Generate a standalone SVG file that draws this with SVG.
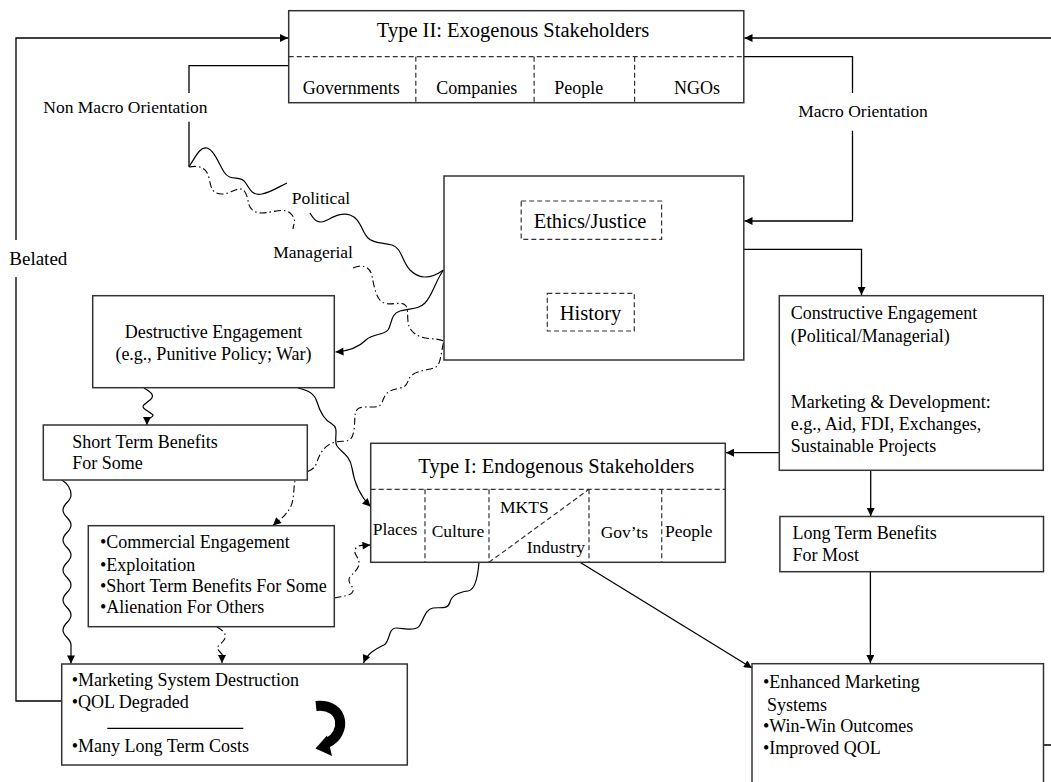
<svg xmlns="http://www.w3.org/2000/svg" width="1051" height="782" viewBox="0 0 1051 782">
<defs>
<style>
.box{fill:#fff;stroke:#333;stroke-width:1.5}
.dsh{fill:none;stroke:#333;stroke-width:1.2;stroke-dasharray:5 3}
.ln{fill:none;stroke:#000;stroke-width:1.3}
.wv{fill:none;stroke:#000;stroke-width:1.2}
.dd{fill:none;stroke:#000;stroke-width:1.1;stroke-dasharray:7 3 1.5 3}
text{font-family:"Liberation Serif","Times New Roman",serif;fill:#000}
.s18{font-size:18px}
.s17{font-size:17.5px}
.s20{font-size:20.5px}
.s19{font-size:19px}
.mid{text-anchor:middle}
</style>
<marker id="ah" viewBox="0 0 10 10" refX="10" refY="5" markerWidth="10" markerHeight="8" markerUnits="userSpaceOnUse" orient="auto"><path d="M0,0 L10,5 L0,10 z" fill="#000"/></marker>
</defs>
<rect width="1051" height="782" fill="#fff"/>

<g id="connectors">
<path class="ln" d="M61.7,701 H16 V277 M16,240 V38 H288" marker-end="url(#ah)"/>
<path class="ln" d="M1043.5,745 H1062 V38 H744.5" marker-end="url(#ah)"/>
<path class="ln" d="M288.7,65.7 H189 V93 M189,121.7 V166.7"/>
<path class="ln" d="M743.8,56.7 H852.5 V93 M852.5,130.7 V221 H744.5" marker-end="url(#ah)"/>
<path class="ln" d="M743.8,249.3 H861.5 V295" marker-end="url(#ah)"/>
<path class="ln" d="M589.7,239.5 V284" marker-end="url(#ah)"/>
<path class="ln" d="M779.3,452.7 H726" marker-end="url(#ah)"/>
<path class="ln" d="M870.7,470.3 V516" marker-end="url(#ah)"/>
<path class="ln" d="M870.4,571.7 V663" marker-end="url(#ah)"/>
<path class="ln" d="M580,562.3 L752,668" marker-end="url(#ah)"/>

<path class="wv" d="M189,166.7 C195,158 200,146 207,148 S218,162 224,172 S240,175 245,182 S252,196 262,194 S280,186 287,183"/>
<path class="wv" d="M310,213 C314,220 318,224 325,221 S340,212 350,215 S362,232 368,238 S382,242 392,245 S402,262 410,270 S428,281 443.5,270"/>
<path class="wv" d="M443.5,270 C436,280 432,296 425,303 S410,308 400,311 S392,325 388,330 S372,334 366,340 S352,351 335.5,352" marker-end="url(#ah)"/>

<path class="dd" d="M189,167 C200,165 207,168 209,178 S212,194 222,194 S240,184 245,192 S246,208 256,212 S282,206 290,213 S293,224 293,229"/>
<path class="dd" d="M353,268 C362,264 370,266 372,276 S376,300 384,303 S402,300 406,306 S404,325 414,333 S435,337 443.5,341"/>
<path class="dd" d="M443.5,343 C441,352 441,364 436,367 S418,370 412,375 S410,386 400,388 S386,392 383,400 S378,407 365,407 S356,416 354,430 S346,440 336,442 S320,452 317,462 S304,472 298,475 S296,498 290,508 S280,519 273,525.5" marker-end="url(#ah)"/>

<path class="dd" d="M334.3,598 C342,596 352,596 353,591 S346,582 350,577 S360,568 359,562 S352,552 356,548 S364,545.5 370.5,545" marker-end="url(#ah)"/>
<path class="dd" d="M217,627 C222,630 228,634 224,640 S214,646 220,652 S222,656 222,663" marker-end="url(#ah)"/>

<path class="wv" d="M144,388 C150,392 156,395 150,400 S140,406 146,410 S156,415 150,418 S147,420 147,425" marker-end="url(#ah)"/>
<path class="wv" d="M298,388 C306,390 314,392 317,402 S324,420 332,424 S333,440 337,446 S350,455 352,468 S360,496 370.5,506.5" marker-end="url(#ah)"/>
<path class="wv" d="M62,480 C68,484 71,488 71,495 S63,503 63,510 S71,518 71,525 S63,533 63,540 S71,548 71,555 S63,563 63,570 S71,578 71,585 S63,593 63,600 S71,608 71,615 S63,623 63,630 S71,638 71,645 S71,655 71,663.5" marker-end="url(#ah)"/>
<path class="wv" d="M479,562.3 C478,575 476,590 468,591 S452,594 450,602 S440,607 433,608 S424,618 420,625 S404,628 396,628 S390,642 384,645 S368,652 363.5,663" marker-end="url(#ah)"/>
</g>

<g id="type2">
<rect class="box" x="288.7" y="10.7" width="455.1" height="92"/>
<line class="dsh" x1="288.7" y1="56.7" x2="743.8" y2="56.7"/>
<line class="dsh" x1="415.8" y1="56.7" x2="415.8" y2="102.7"/>
<line class="dsh" x1="534.1" y1="56.7" x2="534.1" y2="102.7"/>
<line class="dsh" x1="634.6" y1="56.7" x2="634.6" y2="102.7"/>
<text class="s20 mid" x="513" y="37">Type II: Exogenous Stakeholders</text>
<text class="s18" x="302.7" y="94">Governments</text>
<text class="s18 mid" x="476.8" y="94">Companies</text>
<text class="s18 mid" x="578.7" y="94">People</text>
<text class="s18 mid" x="697" y="94">NGOs</text>
</g>

<g id="labels">
<text class="s17" x="43.3" y="113">Non Macro Orientation</text>
<text class="s17 mid" x="863" y="117">Macro Orientation</text>
<text class="s19" x="9.3" y="265">Belated</text>
<text class="s17" x="291.7" y="204">Political</text>
<text class="s17" x="273.3" y="258">Managerial</text>
</g>

<g id="ethics">
<rect class="box" x="444" y="176" width="299.8" height="184"/>
<rect class="dsh" x="521.2" y="201" width="140.4" height="38.3"/>
<text class="s20 mid" x="590" y="228">Ethics/Justice</text>
<rect class="dsh" x="547.3" y="293.3" width="87" height="37.7"/>
<text class="s20 mid" x="590.5" y="320">History</text>
</g>

<g id="destructive">
<rect class="box" x="92.7" y="295.7" width="241.6" height="92"/>
<text class="s18 mid" x="213.5" y="338">Destructive Engagement</text>
<text class="s18 mid" x="213.5" y="360">(e.g., Punitive Policy; War)</text>
</g>

<g id="shortterm">
<rect class="box" x="43.3" y="425" width="264" height="55"/>
<text class="s18" x="72.3" y="447.7">Short Term Benefits</text>
<text class="s18" x="72.3" y="469">For Some</text>
</g>

<g id="constructive">
<rect class="box" x="779.3" y="295.7" width="264" height="174.6"/>
<text class="s18" x="790.7" y="319">Constructive Engagement</text>
<text class="s18" x="790.7" y="341.7">(Political/Managerial)</text>
<text class="s18" x="790.7" y="408">Marketing &amp; Development:</text>
<text class="s18" x="790.7" y="430">e.g., Aid, FDI, Exchanges,</text>
<text class="s18" x="790.7" y="451.7">Sustainable Projects</text>
</g>

<g id="type1">
<rect class="box" x="370.7" y="443.3" width="354.6" height="119"/>
<line class="dsh" x1="370.7" y1="489.3" x2="725.3" y2="489.3"/>
<line class="dsh" x1="425" y1="489.3" x2="425" y2="562.3"/>
<line class="dsh" x1="489" y1="489.3" x2="489" y2="562.3"/>
<line class="dsh" x1="589" y1="489.3" x2="589" y2="562.3"/>
<line class="dsh" x1="661.7" y1="489.3" x2="661.7" y2="562.3"/>
<line class="dsh" x1="489" y1="562.3" x2="589" y2="489.3"/>
<text class="s20" x="418.3" y="473.3">Type I: Endogenous Stakeholders</text>
<text class="s17" x="372.7" y="535">Places</text>
<text class="s17" x="431.7" y="537">Culture</text>
<text class="s17" x="500" y="513">MKTS</text>
<text class="s17" x="526.7" y="552.5">Industry</text>
<text class="s17" x="600.7" y="537.5">Gov’ts</text>
<text class="s17" x="665" y="537">People</text>
</g>

<g id="longterm">
<rect class="box" x="779.9" y="516.5" width="263.6" height="55.2"/>
<text class="s18" x="792.4" y="539.3">Long Term Benefits</text>
<text class="s18" x="792.4" y="560.7">For Most</text>
</g>

<g id="commercial">
<rect class="box" x="88.3" y="525.7" width="246" height="101"/>
<text class="s18" x="100" y="548.3">•Commercial Engagement</text>
<text class="s18" x="100" y="570.7">•Exploitation</text>
<text class="s18" x="100" y="591.7">•Short Term Benefits For Some</text>
<text class="s18" x="100" y="613.3">•Alienation For Others</text>
</g>

<g id="destruction">
<rect class="box" x="61.7" y="664" width="345.6" height="101"/>
<text class="s18" x="71.7" y="685.7">•Marketing System Destruction</text>
<text class="s18" x="71.7" y="708.3">•QOL Degraded</text>
<line class="ln" x1="107.3" y1="728.3" x2="243.3" y2="728.3"/>
<text class="s18" x="71.7" y="752.3">•Many Long Term Costs</text>
<path d="M316,706 C345,703 347,734 327,743" fill="none" stroke="#000" stroke-width="10"/>
<path d="M315.5,748.5 L327,735.5 L332,756 Z" fill="#000"/>
</g>

<g id="enhanced">
<rect class="box" x="752" y="663.7" width="291.5" height="200"/>
<text class="s18" x="763" y="688.3">•Enhanced Marketing</text>
<text class="s18" x="767" y="710.7">Systems</text>
<text class="s18" x="763" y="732.3">•Win-Win Outcomes</text>
<text class="s18" x="763" y="754.3">•Improved QOL</text>
</g>
</svg>
